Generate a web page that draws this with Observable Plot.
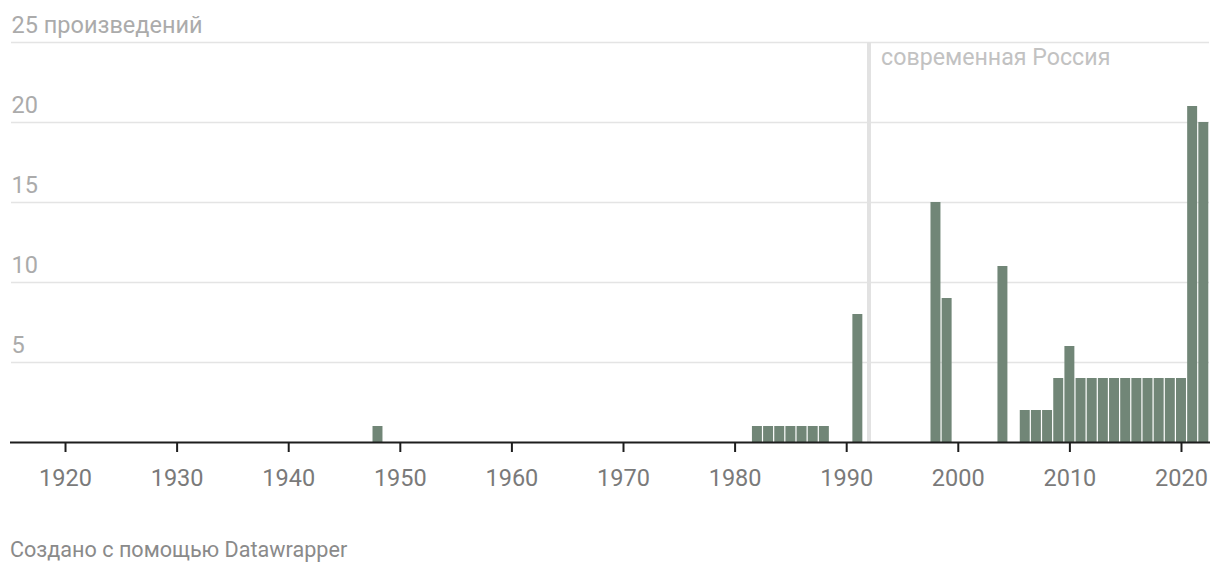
<!DOCTYPE html>
<html>
<head>
<meta charset="utf-8">
<script src="https://cdn.jsdelivr.net/npm/d3@7"></script>
<script src="https://cdn.jsdelivr.net/npm/@observablehq/plot@0.6"></script>
<style>
  html, body { margin: 0; padding: 0; background: #fff; }
  body { width: 1220px; height: 574px; position: relative; overflow: hidden; font-family: Roboto, "Noto Sans", sans-serif; }
  #chart { position: absolute; left: 0; top: 0; }
  #footer { position: absolute; left: 10px; top: 539px; font-size: 21.6px; line-height: 21.6px; color: #8a8a8a; font-family: Roboto, sans-serif; }
</style>
</head>
<body>
<div id="chart"></div>
<div id="footer">Создано с помощью Datawrapper</div>
<script>
const years  = [1948, 1982, 1983, 1984, 1985, 1986, 1987, 1988, 1991, 1998, 1999, 2004,
                2006, 2007, 2008, 2009, 2010, 2011, 2012, 2013, 2014, 2015, 2016, 2017, 2018, 2019, 2020, 2021, 2022];
const counts = [1, 1, 1, 1, 1, 1, 1, 1, 8, 15, 9, 11,
                2, 2, 2, 4, 6, 4, 4, 4, 4, 4, 4, 4, 4, 4, 4, 21, 20];
const xTicks = [1920, 1930, 1940, 1950, 1960, 1970, 1980, 1990, 2000, 2010, 2020];
const yTicks = [5, 10, 15, 20, 25];
const yTickLabels = ["5", "10", "15", "20", "25 произведений"];
const markerYear = [1992];
const markerLabel = ["современная Россия"];

const data = years.map((y, i) => ({year: y, count: counts[i]}));
const yLab = yTicks.map((v, i) => ({v, label: yTickLabels[i]}));

const chart = Plot.plot({
  width: 1220,
  height: 500,
  marginLeft: 10,
  marginRight: 10,
  marginTop: 42,
  marginBottom: 58,
  style: {fontFamily: "Roboto, sans-serif", background: "transparent"},
  x: {domain: [1915.07, 2022.6], axis: null},
  y: {domain: [0, 25], axis: null},
  marks: [
    Plot.ruleY(yTicks, {stroke: "#e4e4e4", strokeWidth: 1.5, insetLeft: 1, insetRight: 1}),
    Plot.text(yLab, {y: "v", text: "label", frameAnchor: "left", textAnchor: "start", lineAnchor: "bottom", dx: 1, dy: -9.5, fontSize: 23.5, fill: "#ababab"}),
    Plot.ruleX(markerYear, {x: d => d, y1: 0, y2: 25, stroke: "#e2e2e2", strokeWidth: 4}),
    Plot.text(markerLabel, {x: () => markerYear[0], y: () => 25, text: d => d, textAnchor: "start", lineAnchor: "bottom", dx: 12, dy: 22.5, fontSize: 23.2, fill: "#c2c2c2"}),
    Plot.rectY(data, {x1: d => d.year - 0.5, x2: d => d.year + 0.5, y: "count", fill: "#718677", insetLeft: 0.6, insetRight: 0.6}),
    Plot.axisX({ticks: xTicks, tickSize: 10, tickFormat: () => "", stroke: "#1d1d1d", strokeWidth: 2}),
    Plot.ruleY([0], {stroke: "#1d1d1d", strokeWidth: 2}),
    Plot.text(xTicks, {x: d => d, y: () => 0, text: d => String(d), textAnchor: "middle", lineAnchor: "bottom", dy: 43, fontSize: 23.5, fill: "#7a7a7a"})
  ]
});
document.getElementById("chart").appendChild(chart);
</script>
</body>
</html>
